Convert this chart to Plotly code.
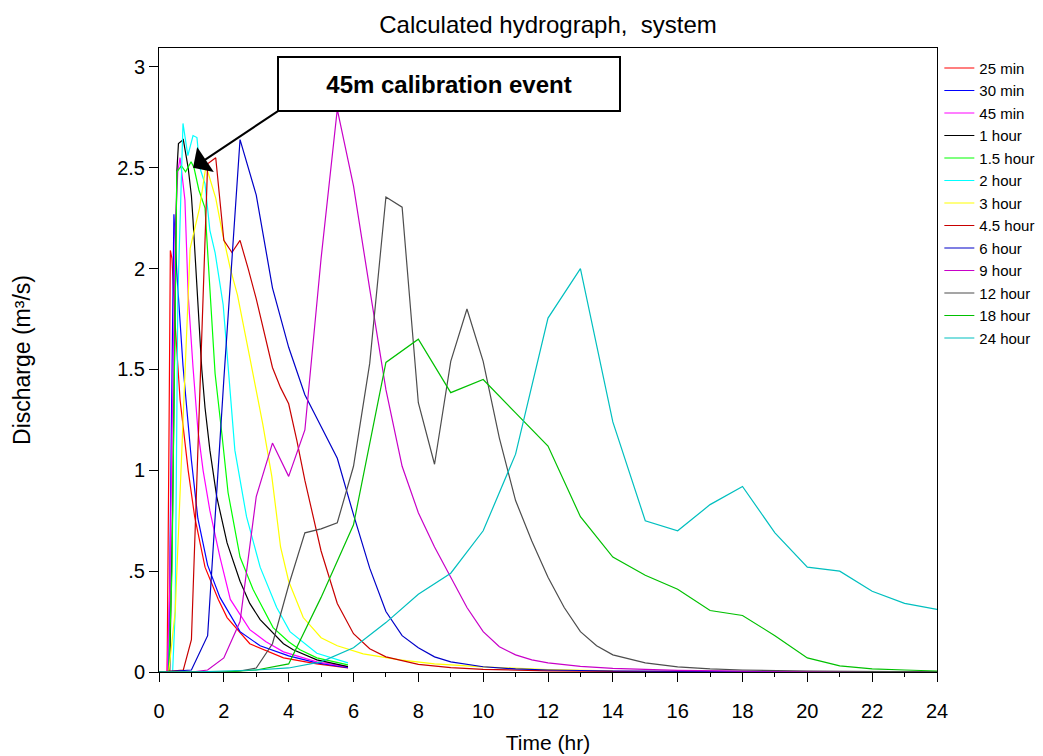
import plotly.graph_objects as go

# ---- data ----
names = ["25 min", "30 min", "45 min", "1 hour", "1.5 hour", "2 hour", "3 hour",
         "4.5 hour", "6 hour", "9 hour", "12 hour", "18 hour", "24 hour"]

t_25m = [0, 0.25, 0.3, 0.35, 0.4, 0.5, 0.65, 0.9, 1.1, 1.42, 1.83, 2.1, 2.8, 3.84, 4.87, 5.83]
q_25m = [0, 0, 1.0, 2.09, 2.05, 1.72, 1.35, 1.0, 0.77, 0.52, 0.36, 0.27, 0.14, 0.07, 0.04, 0.02]

t_30m = [0, 0.3, 0.38, 0.46, 0.55, 0.64, 0.74, 0.86, 1.0, 1.2, 1.5, 1.88, 2.5, 3.12, 4.0, 4.87, 5.83]
q_30m = [0, 0, 1.2, 2.27, 1.98, 1.76, 1.52, 1.3, 1.05, 0.76, 0.53, 0.37, 0.2, 0.13, 0.08, 0.045, 0.022]

t_45m = [0, 0.25, 0.33, 0.42, 0.5, 0.58, 0.65, 0.8, 0.9, 1.05, 1.2, 1.36, 1.57, 1.88, 2.2, 2.8, 3.3, 3.84, 4.87, 5.83]
q_45m = [0, 0, 0.4, 1.5, 2.2, 2.48, 2.55, 2.34, 1.87, 1.51, 1.2, 1.0, 0.8, 0.57, 0.36, 0.21, 0.15, 0.1, 0.05, 0.025]

t_1h = [0, 0.33, 0.42, 0.5, 0.55, 0.6, 0.75, 0.9, 1.0, 1.05, 1.2, 1.32, 1.42, 1.57, 1.78, 2.1, 2.5, 2.8, 3.12, 3.42, 3.84, 4.14, 4.87, 5.83]
q_1h = [0, 0, 0.8, 1.9, 2.48, 2.62, 2.64, 2.5, 2.36, 2.24, 1.8, 1.5, 1.31, 1.1, 0.87, 0.64, 0.45, 0.34, 0.26, 0.21, 0.14, 0.11, 0.06, 0.027]

t_1h5 = [0, 0.3, 0.4, 0.5, 0.55, 0.69, 0.82, 0.99, 1.08, 1.23, 1.42, 1.57, 1.73, 1.94, 2.13, 2.5, 2.9, 3.52, 4.0, 4.35, 4.87, 5.83]
q_1h5 = [0, 0, 0.5, 1.7, 2.48, 2.51, 2.48, 2.53, 2.5, 2.39, 2.3, 1.9, 1.48, 1.18, 0.89, 0.57, 0.41, 0.22, 0.15, 0.11, 0.07, 0.035]

t_2h = [0, 0.42, 0.5, 0.58, 0.74, 0.89, 1.05, 1.17, 1.26, 1.42, 1.57, 1.73, 1.98, 2.16, 2.34, 2.7, 3.12, 3.63, 4.04, 4.87, 5.83]
q_2h = [0, 0, 0.3, 1.85, 2.72, 2.56, 2.66, 2.65, 2.5, 2.42, 2.19, 2.08, 1.82, 1.46, 1.1, 0.77, 0.52, 0.32, 0.2, 0.093, 0.045]

t_3h = [0, 0.3, 0.5, 0.75, 0.96, 1.25, 1.45, 1.75, 1.94, 2.2, 2.42, 2.8, 3.2, 3.48, 3.75, 4.0, 4.45, 5.0, 5.5, 6.3, 7.43, 8.5, 10, 12, 14]
q_3h = [0, 0, 0.3, 1.28, 2.1, 2.3, 2.51, 2.35, 2.19, 2.0, 1.87, 1.56, 1.23, 0.97, 0.62, 0.45, 0.27, 0.17, 0.13, 0.09, 0.06, 0.04, 0.025, 0.012, 0.006]

t_4h5 = [0, 0.75, 1.0, 1.5, 1.75, 2.0, 2.25, 2.5, 2.75, 3.0, 3.5, 3.75, 4.0, 4.25, 4.5, 5.0, 5.5, 6.0, 6.5, 7.0, 8.0, 9.0, 10, 12, 14, 16, 18, 20, 22, 24]
q_4h5 = [0, 0.01, 0.16, 2.52, 2.55, 2.14, 2.08, 2.14, 2.0, 1.85, 1.51, 1.41, 1.33, 1.15, 0.95, 0.6, 0.34, 0.19, 0.115, 0.075, 0.038, 0.022, 0.013, 0.006, 0.003, 0.002, 0.001, 0.001, 0, 0]

t_6h = [0, 1.0, 1.5, 2.0, 2.5, 3.0, 3.5, 4.0, 4.5, 5.0, 5.5, 6.0, 6.5, 7.0, 7.5, 8.0, 8.5, 9.0, 10, 11, 12, 14, 16, 18, 20, 24]
q_6h = [0, 0.01, 0.18, 1.45, 2.64, 2.365, 1.905, 1.61, 1.375, 1.22, 1.06, 0.78, 0.515, 0.30, 0.18, 0.12, 0.075, 0.05, 0.026, 0.015, 0.01, 0.005, 0.003, 0.002, 0.001, 0]

t_9h = [0, 1, 1.5, 2, 2.5, 3, 3.5, 4, 4.5, 5, 5.5, 6, 6.5, 7, 7.5, 8, 8.5, 9, 9.5, 10, 10.5, 11, 11.5, 12, 13, 14, 15, 16, 18, 20, 22, 24]
q_9h = [0, 0, 0.01, 0.07, 0.25, 0.87, 1.135, 0.97, 1.2, 2.05, 2.79, 2.41, 1.9, 1.40, 1.02, 0.79, 0.62, 0.47, 0.32, 0.20, 0.125, 0.085, 0.06, 0.045, 0.028, 0.018, 0.012, 0.008, 0.004, 0.002, 0.001, 0.001]

t_12h = [0, 2, 2.5, 3, 3.5, 4, 4.5, 5, 5.5, 6, 6.5, 7, 7.5, 8, 8.5, 9, 9.5, 10, 10.5, 11, 11.5, 12, 12.5, 13, 13.5, 14, 15, 16, 17, 18, 20, 22, 24]
q_12h = [0, 0, 0.005, 0.02, 0.14, 0.43, 0.69, 0.71, 0.74, 1.02, 1.53, 2.355, 2.305, 1.335, 1.03, 1.54, 1.80, 1.54, 1.16, 0.85, 0.65, 0.47, 0.32, 0.20, 0.13, 0.085, 0.045, 0.025, 0.015, 0.01, 0.005, 0.002, 0.001]

t_18h = [0, 2, 3, 4, 5, 6, 7, 8, 9, 10, 11, 12, 13, 14, 15, 16, 17, 18, 19, 20, 21, 22, 23, 24]
q_18h = [0, 0, 0.01, 0.04, 0.37, 0.73, 1.535, 1.65, 1.385, 1.45, 1.285, 1.12, 0.77, 0.57, 0.48, 0.41, 0.305, 0.28, 0.18, 0.07, 0.03, 0.015, 0.01, 0.005]

t_24h = [0, 1, 2, 3, 4, 5, 6, 7, 8, 9, 10, 11, 12, 13, 14, 15, 16, 17, 18, 19, 20, 21, 22, 23, 24]
q_24h = [0, 0, 0.005, 0.01, 0.02, 0.05, 0.12, 0.245, 0.385, 0.49, 0.70, 1.08, 1.755, 2.0, 1.24, 0.75, 0.70, 0.83, 0.92, 0.69, 0.52, 0.50, 0.40, 0.34, 0.31]

x_ticks = [0, 2, 4, 6, 8, 10, 12, 14, 16, 18, 20, 22, 24]
y_ticks = [0, 0.5, 1, 1.5, 2, 2.5, 3]
y_tick_text = ["0", ".5", "1", "1.5", "2", "2.5", "3"]

times = [t_25m, t_30m, t_45m, t_1h, t_1h5, t_2h, t_3h, t_4h5, t_6h, t_9h, t_12h, t_18h, t_24h]
flows = [q_25m, q_30m, q_45m, q_1h, q_1h5, q_2h, q_3h, q_4h5, q_6h, q_9h, q_12h, q_18h, q_24h]
colors = ["#FF0000", "#0000FF", "#FF00FF", "#000000", "#00FF00", "#00FFFF", "#FFFF00",
          "#C80000", "#0000C8", "#C800C8", "#4D4D4D", "#00C000", "#00BFBF"]

FONT = "Liberation Sans, Arial, sans-serif"

fig = go.Figure()
for n, tt, qq, c in zip(names, times, flows, colors):
    fig.add_trace(go.Scatter(x=tt, y=qq, mode="lines", name=n, legendgroup=n,
                             line=dict(color=c, width=1.2)))

# page has an 8px body margin, so the figure is drawn 8px smaller/offset
fig.update_layout(
    width=1035, height=748,
    margin=dict(l=151, r=106, t=40, b=84, autoexpand=False),
    paper_bgcolor="white", plot_bgcolor="white",
    font=dict(family=FONT, size=20, color="black"),
    title=dict(text="Calculated hydrograph,\u00a0 system", x=0.5, xref="paper",
               y=1 - 17 / 748, yref="container", yanchor="middle",
               font=dict(size=24, family=FONT)),
    legend=dict(x=1.003, y=0.994, xanchor="left", yanchor="top",
                font=dict(size=15, family=FONT), tracegroupgap=0,
                bgcolor="rgba(0,0,0,0)", borderwidth=0),
    showlegend=True,
)

fig.update_xaxes(range=[0, 24], tickvals=x_ticks, ticks="outside", ticklen=9,
                 tickcolor="black", showline=True, linecolor="black", linewidth=1,
                 mirror=True, showgrid=False, zeroline=False, ticklabelstandoff=12,
                 minor=dict(dtick=1, ticks="outside", ticklen=4, tickcolor="black"),
                 title=dict(text="Time (hr)", standoff=14, font=dict(size=21)),
                 automargin=False)
fig.update_yaxes(range=[0, 3.094], tickvals=y_ticks, ticktext=y_tick_text,
                 ticks="outside", ticklen=9, tickcolor="black", showline=True,
                 linecolor="black", linewidth=1, mirror=True, showgrid=False,
                 zeroline=False,
                 title=dict(text="Discharge (m³/s)", standoff=80, font=dict(size=23)),
                 automargin=False)

# annotation box
fig.add_annotation(x=8.95, y=2.916, xref="x", yref="y", text="<b>45m calibration event</b>",
                   showarrow=False, font=dict(size=24, family=FONT, color="black"),
                   bgcolor="white", bordercolor="black", borderwidth=2, borderpad=2,
                   width=336, height=48, align="center", xanchor="center", yanchor="middle")
# arrow
fig.add_annotation(x=1.05, y=2.5, xref="x", yref="y", ax=3.75, ay=2.79, axref="x", ayref="y",
                   text="", showarrow=True, arrowhead=1, arrowsize=2.5, arrowwidth=2,
                   arrowcolor="black")

fig.write_html("out.html")
